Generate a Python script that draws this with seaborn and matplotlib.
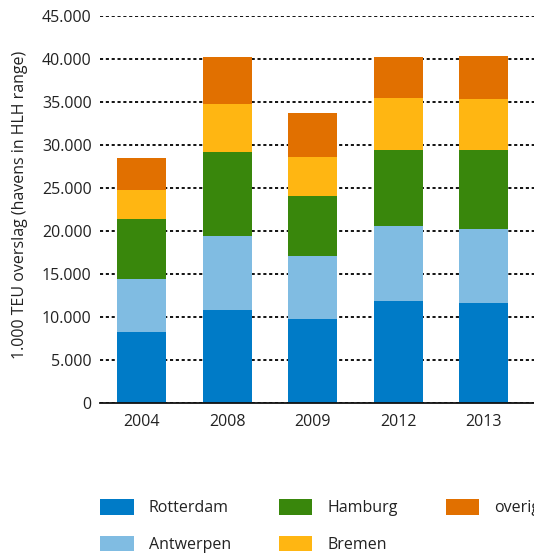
import matplotlib
matplotlib.use("Agg")
import matplotlib.pyplot as plt
import matplotlib.patches as mpatches
import seaborn as sns
import pandas as pd
import numpy as np

years = ["2004", "2008", "2009", "2012", "2013"]
series = ["Rotterdam", "Antwerpen", "Hamburg", "Bremen", "overig"]
rotterdam = [8220, 10780, 9730, 11860, 11590]
antwerpen = [6160, 8600, 7330, 8720, 8610]
hamburg = [6980, 9770, 6970, 8800, 9180]
bremen = [3370, 5580, 4540, 6050, 5930]
overig = [3720, 5470, 5120, 4770, 5000]
colors = ["#007BC7", "#80BCE2", "#39870C", "#FFB612", "#E17000"]
yticks = [0, 5000, 10000, 15000, 20000, 25000, 30000, 35000, 40000, 45000]
ytick_labels = ["0", "5.000", "10.000", "15.000", "20.000", "25.000",
                "30.000", "35.000", "40.000", "45.000"]
ylabel = "1.000 TEU overslag (havens in HLH range)"

sns.set_theme(style="white")
plt.rcParams["font.family"] = ["Open Sans", "DejaVu Sans"]
FS = 11.5

df = pd.DataFrame({"jaar": years, "Rotterdam": rotterdam, "Antwerpen": antwerpen,
                   "Hamburg": hamburg, "Bremen": bremen, "overig": overig})
cum = df[series].cumsum(axis=1)

fig = plt.figure(figsize=(5.34, 5.53), dpi=100)
ax = fig.add_axes([100/534, 150.3/553, 434/534, 387/553])

for s, c in reversed(list(zip(series, colors))):
    sns.barplot(x=df["jaar"], y=cum[s], color=c, width=0.573, ax=ax,
                saturation=1, zorder=3, order=years, linewidth=0, edgecolor="none")

ax.set_xlim(-0.49, 4.59)
ax.set_ylim(0, 45000)
ax.set_yticks(yticks)
ax.set_yticklabels(ytick_labels, fontsize=FS, color="#222222")
ax.tick_params(axis="y", length=0, pad=6)
ax.tick_params(axis="x", length=0, pad=8, labelsize=FS, labelcolor="#222222")
ax.set_xlabel("")
ax.set_ylabel(ylabel, fontsize=FS, color="#222222")
ax.yaxis.set_label_coords(-0.165, 0.51)
ax.grid(axis="y", color="#111111", linestyle=(0, (1.6, 1.4)), linewidth=1.4, zorder=1)
ax.grid(axis="x", visible=False)
for sp in ["left", "right", "top"]:
    ax.spines[sp].set_visible(False)
ax.spines["bottom"].set_color("#111111")
ax.spines["bottom"].set_linewidth(1.3)
ax.spines["bottom"].set_zorder(4)

handles = [mpatches.Patch(facecolor=c, edgecolor="none", label=s) for s, c in zip(series, colors)]
fig.legend(handles=handles, ncol=3, loc="upper left",
           bbox_to_anchor=(100/534, 1 - 499/553), frameon=False,
           fontsize=FS, handlelength=2.1, handleheight=1.15, handletextpad=0.95,
           columnspacing=3.0, labelspacing=1.2, borderpad=0, borderaxespad=0,
           labelcolor="#222222")

fig.savefig("out.png", dpi=100)
